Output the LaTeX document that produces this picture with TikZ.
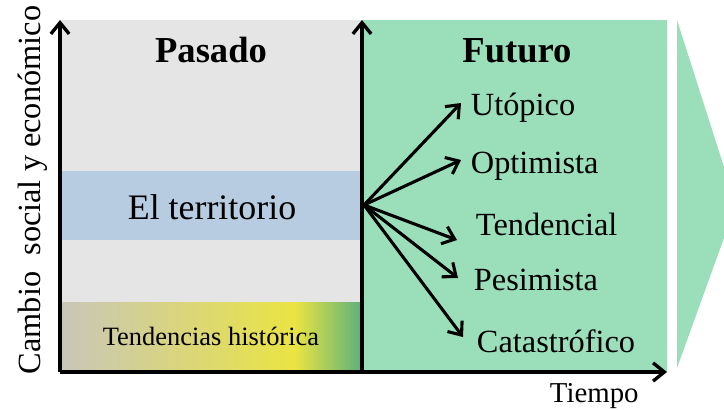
\documentclass[tikz,border=0pt]{standalone}
\usepackage{fontspec}
\setmainfont{Liberation Serif}
\usetikzlibrary{arrows.meta}
\tikzset{>={Straight Barb[length=8pt,width=13pt]}}
\definecolor{pastgray}{RGB}{229,229,229}
\definecolor{landblue}{RGB}{183,204,224}
\definecolor{futgreen}{RGB}{155,222,186}
\definecolor{trendgray}{RGB}{200,198,186}
\definecolor{trendyellow}{RGB}{234,228,66}
\definecolor{trenddark}{RGB}{92,176,122}
\tikzset{
  axis/.style={->, line width=2.4pt},
  branch/.style={->, line width=2.2pt},
  scen/.style={anchor=base west, font=\fontsize{23}{23}\selectfont},
  head/.style={anchor=base, font=\fontsize{26}{26}\selectfont\bfseries}
}

\begin{document}
\begin{tikzpicture}[x=0.025cm,y=-0.025cm]
    \useasboundingbox (0,0) rectangle (724,409);
    \fill[pastgray] (60,20) rectangle (362,372);
    \fill[futgreen] (362,20) rectangle (667,372);
    \fill[futgreen] (677,20) -- (724,167) -- (724,238) -- (677,368) -- cycle;
    \fill[landblue] (60,171) rectangle (362,240);
    \shade[left color=trendgray, right color=trendyellow] (60,302) rectangle (296,372);
    \shade[left color=trendyellow, right color=trenddark] (295,302) rectangle (362,372);
    \coordinate (O) at (60,372);
    \coordinate (Y) at (60,20);
    \coordinate (X) at (667,372);
    \coordinate (N) at (362,372);
    \coordinate (T) at (362,20);
    \coordinate (S) at (364,205);
    \draw[axis] (O) -- (Y);
    \draw[axis] (N) -- (T);
    \draw[axis] (O) -- (X);
    \node[head] (pasado) at (211,62) {Pasado};
    \node[head] (futuro) at (517,62) {Futuro};
    \node[anchor=base, font=\fontsize{25.5}{25.5}\selectfont] (terr) at (212,219) {El territorio};
    \node[anchor=base, font=\fontsize{18.8}{18.8}\selectfont] (hist) at (211,345) {Tendencias histórica};
    \node[scen] (uto) at (466,115) {Utópico};
    \node[scen] (opt) at (466,173) {Optimista};
    \node[scen] (ten) at (471,235) {Tendencial};
    \node[scen] (pes) at (469,290) {Pesimista};
    \node[scen] (cat) at (472,352) {Catastrófico};
    \coordinate (uA) at (461,103);
    \coordinate (oA) at (461,160);
    \coordinate (tA) at (457,240);
    \coordinate (pA) at (458,278);
    \coordinate (cA) at (463,337);
    \foreach \e in {uA,oA,tA,pA,cA}
        \draw[branch] (S) -- (\e);
    \node[anchor=base west, font=\fontsize{20.5}{20.5}\selectfont] (tiempo) at (545,402) {Tiempo};
    \node[anchor=base, rotate=90, font=\fontsize{23}{23}\selectfont] (cambio) at (40,190) {Cambio\ \ social y económico};
\end{tikzpicture}
\end{document}
